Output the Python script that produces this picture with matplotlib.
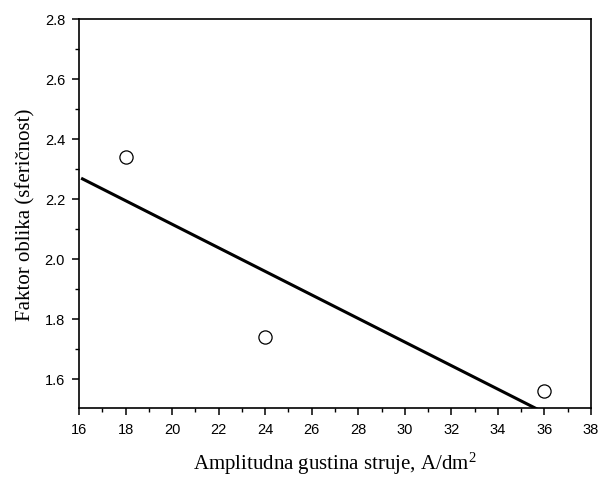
import numpy as np
import matplotlib
matplotlib.use("Agg")
import matplotlib.pyplot as plt
from matplotlib.ticker import MultipleLocator

plt.rcParams['mathtext.fontset'] = 'custom'
plt.rcParams['mathtext.rm'] = 'Liberation Serif'
plt.rcParams['mathtext.it'] = 'Liberation Serif:italic'

current_density = [18, 24, 36]
shape_factor = [2.34, 1.74, 1.56]

fig = plt.figure(figsize=(6.02, 4.81), dpi=100)
ax = fig.add_axes([79/602, 1-409/481, (591-79)/602, (409-20)/481])

# linear fit
k, b = np.polyfit(current_density, shape_factor, 1)
xf = np.linspace(16.15, 38, 200)
ax.plot(xf, k*xf + b, color='black', lw=2.2, zorder=2)
ax.plot(current_density, shape_factor, 'o', mfc='white', mec='black', ms=9.5, mew=0.9, zorder=3)

ax.set_xlim(16, 38)
ax.set_ylim(1.503, 2.8)
ax.xaxis.set_major_locator(MultipleLocator(2))
ax.xaxis.set_minor_locator(MultipleLocator(1))
ax.yaxis.set_major_locator(MultipleLocator(0.2))
ax.yaxis.set_minor_locator(MultipleLocator(0.1))
ax.tick_params(which='major', direction='out', length=5, width=1.1, labelsize=10.5,
               pad=5, labelfontfamily='Liberation Sans')
ax.tick_params(which='minor', direction='out', length=3, width=1.0)
for s in ax.spines.values():
    s.set_linewidth(1.2)

ax.set_xlabel(r'Amplitudna gustina struje, A/dm$^{\mathrm{2}}$', family='Liberation Serif', fontsize=15, labelpad=10)
ax.set_ylabel('Faktor oblika (sferičnost)', family='Liberation Serif', fontsize=15, labelpad=7)

fig.savefig('out.png', dpi=100)
